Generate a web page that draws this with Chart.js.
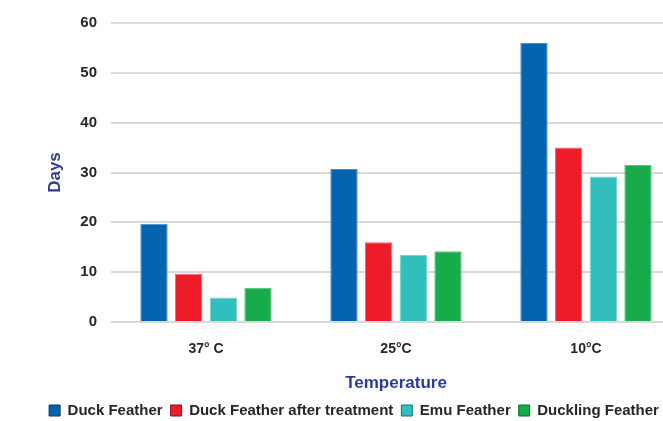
<!DOCTYPE html>
<html>
<head>
<meta charset="utf-8">
<script src="https://cdn.jsdelivr.net/npm/chart.js@4"></script>
<style>
  html, body { margin: 0; padding: 0; background: #fff; overflow: hidden; }
  #wrap { width: 710px; height: 421px; }
</style>
</head>
<body>
<div id="wrap"><canvas id="myChart"></canvas></div>
<script>
// Values
const temperatures = ["37° C", "25°C", "10°C"];
const duckFeather = [19.7, 30.7, 56];
const duckTreated = [9.7, 16.0, 35];
const emuFeather = [4.9, 13.5, 29.2];
const ducklingFeather = [6.8, 14.2, 31.5];
const yTicks = [0, 10, 20, 30, 40, 50, 60];

const seriesNames = ["Duck Feather", "Duck Feather after treatment", "Emu Feather", "Duckling Feather"];
const fills = ["#0563AF", "#ED1C28", "#31BEBC", "#17AB4C"];
const edges = ["#4C8CC8", "#F2646B", "#74D3D1", "#5CC484"];
const legendEdges = ["#023A6A", "#8E1018", "#1C7472", "#0D6A2E"];

const FONT = "'Liberation Sans', Arial, sans-serif";
const TEXT = "#262626";
const TITLE_BLUE = "#2E3B97";

const ctx = document.getElementById("myChart").getContext("2d");
const chart = new Chart(ctx, {
  type: 'bar',
  data: {
    labels: temperatures,
    datasets: [duckFeather, duckTreated, emuFeather, ducklingFeather].map((vals, i) => ({
      label: seriesNames[i],
      data: vals,
      backgroundColor: fills[i],
      borderColor: edges[i],
      borderWidth: 1,
      categoryPercentage: 0.73,
      barPercentage: 0.79
    }))
  },
  options: {
    responsive: true,
    maintainAspectRatio: false,
    animation: false,
    layout: { padding: { left: 27, right: 29, top: 11, bottom: -7 } },
    plugins: {
      tooltip: { enabled: false },
      legend: {
        position: 'bottom',
        labels: {
          boxWidth: 11,
          boxHeight: 11,
          padding: 8,
          color: TEXT,
          font: { family: FONT, size: 15, weight: 'bold' },
          generateLabels(chart) {
            const items = Chart.defaults.plugins.legend.labels.generateLabels(chart);
            items.forEach((it, i) => {
              it.strokeStyle = legendEdges[i];
              it.lineWidth = 1;
            });
            return items;
          }
        }
      }
    },
    scales: {
      x: {
        grid: { display: false },
        border: { display: false },
        ticks: {
          color: TEXT,
          padding: 11,
          font: { family: FONT, size: 14, weight: 'bold' }
        },
        title: {
          display: true,
          text: 'Temperature',
          color: TITLE_BLUE,
          padding: { top: 0, bottom: 1 },
          font: { family: FONT, size: 17, weight: 'bold' }
        },
        afterFit(scale) { scale.height = 73; }
      },
      y: {
        min: 0,
        max: 60,
        afterBuildTicks(scale) { scale.ticks = yTicks.map(v => ({ value: v })); },
        grid: { color: '#D9D9D9', lineWidth: 2, drawTicks: false },
        border: { display: false },
        ticks: {
          color: TEXT,
          padding: 14,
          font: { family: FONT, size: 15, weight: 'bold' }
        },
        title: {
          display: true,
          text: 'Days',
          color: TITLE_BLUE,
          padding: { top: 18, bottom: 0 },
          font: { family: FONT, size: 17, weight: 'bold' }
        },
        afterFit(scale) { scale.width = 84; }
      }
    }
  }
});
</script>
</body>
</html>
